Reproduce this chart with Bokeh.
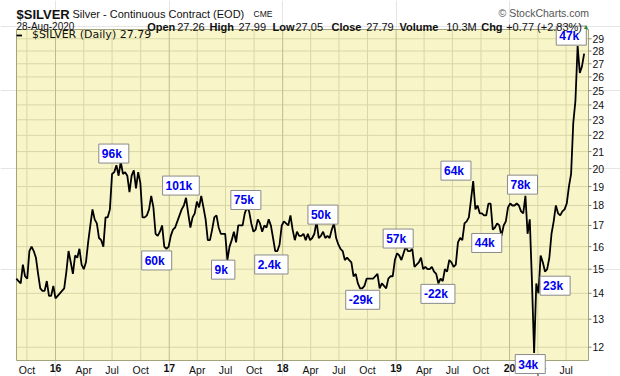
import math
import pandas as pd
from bokeh.plotting import figure
from bokeh.models import Range1d, Label, Legend, LegendItem
from bokeh.core.properties import value
from bokeh.embed import file_html
from bokeh.resources import INLINE

# ---- weekly closes (Fridays) ----
prices_2015 = [14.6,
               14.5, 14.4, 15.2, 14.7,
               14.6, 15.8, 16.0, 15.8, 15.5,
               14.8, 14.2, 14.1, 14.1,
               14.5, 13.9, 13.9, 14.3]
prices_2016 = [13.8, 13.9, 14.0, 14.1, 14.2,
               14.9, 15.8, 15.3, 14.8,
               15.6, 15.5, 15.9, 15.2,
               15.0, 15.3, 16.2, 17.0, 17.8,
               17.3, 17.1, 16.4, 16.3,
               16.0, 17.4, 17.4, 17.8,
               19.7, 19.8, 20.2, 19.6, 20.4,
               19.7, 19.8, 19.6, 18.7,
               19.6, 19.9, 18.9, 19.8, 19.2,
               17.4, 17.4, 17.5, 17.8,
               18.5, 17.9, 16.6, 16.5,
               16.7, 17.0, 16.0, 15.9, 16.0]
prices_2017 = [16.5, 16.8, 16.9, 17.2,
               17.5, 17.8, 18.0, 18.4,
               17.6, 16.9, 17.4, 17.6, 18.2,
               17.9, 18.5, 17.9, 17.3,
               16.3, 16.3, 16.8, 17.4,
               17.5, 16.9, 16.6, 16.6, 16.6,
               15.4, 16.0, 16.3, 16.7,
               16.2, 17.0, 17.0, 17.0,
               17.6, 17.9, 17.7, 17.1, 16.7,
               16.8, 17.3, 17.1, 16.7,
               17.0, 16.9, 17.3, 17.0,
               16.4, 15.8, 15.8, 16.1, 17.0]
prices_2018 = [17.2, 17.1, 17.0, 17.5,
               16.8, 16.3, 16.7, 16.5,
               16.5, 16.6, 16.3, 16.6, 16.3,
               16.4, 16.6, 17.2, 16.4,
               16.5, 16.7, 16.4, 16.5,
               16.4, 16.8, 17.1, 16.4, 16.1,
               15.9, 15.8, 15.4, 15.5,
               15.4, 15.3, 14.7, 14.8, 14.4,
               14.2, 14.2, 14.3, 14.6,
               14.6, 14.6, 14.6, 14.7,
               14.8, 14.2, 14.4, 14.3, 14.2,
               14.6, 14.7, 14.7, 15.4]
prices_2019 = [15.7, 15.6, 15.4, 15.7,
               16.0, 15.8, 15.8, 15.9,
               15.1, 15.2, 15.3, 15.5, 15.0,
               15.1, 15.0, 15.0, 15.1,
               14.9, 14.8, 14.4, 14.6, 14.5,
               15.0, 14.9, 15.4, 15.3,
               15.1, 15.2, 16.2, 16.4,
               16.3, 17.1, 17.2, 17.4, 18.3,
               19.3, 17.8, 18.0, 17.6,
               17.6, 17.5, 17.5, 18.1,
               18.1, 16.8, 16.9, 17.1, 17.0,
               16.5, 17.0, 17.2, 17.9]
prices_2020 = [18.1, 18.0, 18.0, 18.1, 18.0,
               17.7, 17.6, 18.5, 16.6,
               17.3, 14.5, 11.8, 14.4,
               14.0, 15.6, 15.3, 14.9,
               15.0, 15.5, 16.6, 17.2, 18.0,
               17.6, 17.5, 17.7, 17.8,
               18.1, 19.0, 19.7, 22.8, 24.3,
               28.4, 26.3, 26.8, 27.8]
first_fridays = ["2015-08-28", "2016-01-01", "2017-01-06", "2018-01-05", "2019-01-04", "2020-01-03"]
yearly = [prices_2015, prices_2016, prices_2017, prices_2018, prices_2019, prices_2020]

# ---- annotations (net positions) ----
ann_labels = ["96k", "60k", "101k", "9k", "75k", "2.4k", "50k", "-29k",
              "57k", "-22k", "64k", "44k", "78k", "34k", "23k", "47k"]
ann_dates = ["2016-07-13", "2016-11-28", "2017-02-14", "2017-06-30", "2017-09-11",
             "2017-12-02", "2018-05-17", "2018-09-22", "2019-01-14", "2019-05-22",
             "2019-07-19", "2019-10-26", "2020-02-18", "2020-03-14", "2020-06-02",
             "2020-07-24"]
ann_prices = [20.34, 15.79, 18.56, 15.38, 17.81, 15.61, 17.08, 14.11,
              15.95, 14.35, 19.37, 16.60, 18.61, 11.74, 14.69, 28.50]
ann_side = ["above", "below", "above", "below", "above", "below", "above", "below",
            "above", "below", "above", "below", "above", "below", "below", "above"]

# ---- axes content ----
price_ticks = list(range(12, 30))
year_labels = ["16", "17", "18", "19", "20"]
year_dates = ["2016-01-01", "2017-01-01", "2018-01-01", "2019-01-01", "2020-01-01"]
month_labels = ["Oct", "Apr", "Jul", "Oct", "Apr", "Jul", "Oct", "Apr", "Jul", "Oct",
                "Apr", "Jul", "Oct", "Apr", "Jul"]
month_dates = ["2015-10-01",
               "2016-04-01", "2016-07-01", "2016-10-01",
               "2017-04-01", "2017-07-01", "2017-10-01",
               "2018-04-01", "2018-07-01", "2018-10-01",
               "2019-04-01", "2019-07-01", "2019-10-01",
               "2020-04-01", "2020-07-01"]
X_START, X_END = "2015-08-28 12:00", "2020-09-11"
Y_LOW, Y_HIGH = 11.552, 29.78


def ms(d):
    return pd.Timestamp(d).value / 1e6


dates = []
prices = []
for start, vals in zip(first_fridays, yearly):
    dates.extend(pd.date_range(start, periods=len(vals), freq="W-FRI"))
    prices.extend(vals)

# ---- layout: the frame covers the whole canvas; plot area is a box inside ----
W, H = 620, 376
PA_L, PA_R, PA_T, PA_B = 16, 588, 29, 360
xs, xe = ms(X_START), ms(X_END)
per_px = (xe - xs) / (PA_R - PA_L)
k = math.log(Y_HIGH / Y_LOW) / (PA_B - PA_T)
x_range = Range1d(xs - PA_L * per_px, xe + (W - PA_R) * per_px)
y_range = Range1d(Y_LOW * math.exp(-(H - PA_B) * k), Y_HIGH * math.exp(PA_T * k))

BG = "#f8f6c8"
GRID = "#d8d6a6"
YEARGRID = "#bdbd8a"
OUTLINE = "#a3a37c"
TXT = "#111111"

p = figure(width=W, height=H, x_axis_type="datetime", y_axis_type="log",
           x_axis_location=None, y_axis_location=None,
           x_range=x_range, y_range=y_range,
           output_backend="svg", toolbar_location=None, min_border=0,
           background_fill_color="white", border_fill_color="white",
           outline_line_color=None)

# plot area background
p.quad(left=[xs], right=[xe], bottom=[Y_LOW], top=[Y_HIGH], fill_color=BG, line_color=None)

# grid lines
p.segment(x0=[xs] * len(price_ticks), x1=[xe] * len(price_ticks),
          y0=price_ticks, y1=price_ticks, line_color=GRID, line_width=1)
qd = [ms(d) for d in month_dates]
p.segment(x0=qd, x1=qd, y0=[Y_LOW] * len(qd), y1=[Y_HIGH] * len(qd),
          line_color=GRID, line_width=1)
yd = [ms(d) for d in year_dates]
p.segment(x0=yd, x1=yd, y0=[Y_LOW] * len(yd), y1=[Y_HIGH] * len(yd),
          line_color=YEARGRID, line_width=1)

# outline of plot area
p.quad(left=[xs], right=[xe], bottom=[Y_LOW], top=[Y_HIGH], fill_color=None,
       line_color=OUTLINE, line_width=1)

# right-hand price scale
p.ray(x=[xe] * len(price_ticks), y=price_ticks, length=3, length_units="screen", angle=0,
      line_color="#8a8a70", line_width=1)
p.text(x=[xe] * len(price_ticks), y=price_ticks, text=[str(t) for t in price_ticks],
       x_offset=4, text_align="left", text_baseline="middle",
       text_font=value("Liberation Sans"), text_font_size="10.5px", text_color=TXT)

# date scale
p.text(x=qd, y=[Y_LOW] * len(qd), text=month_labels, y_offset=3,
       text_align="center", text_baseline="top",
       text_font=value("Liberation Sans"), text_font_size="10.5px", text_color=TXT)
p.text(x=yd, y=[Y_LOW] * len(yd), text=year_labels, y_offset=3,
       text_align="center", text_baseline="top", text_font_style="bold",
       text_font=value("Liberation Sans"), text_font_size="10.5px", text_color=TXT)

# price line
line_r = p.line(dates, prices, line_color="black", line_width=1.8)

legend = Legend(items=[LegendItem(label="$SILVER (Daily) 27.79", renderers=[line_r])],
                location=(PA_L, H - PA_T - 12), margin=0, padding=0, spacing=0,
                glyph_width=6, glyph_height=8, label_height=12, label_standoff=10,
                label_text_font="DejaVu Sans", label_text_font_size="11px",
                label_text_color=TXT, background_fill_alpha=0, border_line_alpha=0)
p.add_layout(legend)

# annotation boxes
for lab, d, pr, side in zip(ann_labels, ann_dates, ann_prices, ann_side):
    p.add_layout(Label(x=ms(d), y=pr, text=lab, text_align="center", text_baseline="middle",
                       x_offset=-2, y_offset=9.2 if side == "above" else -9.2,
                       text_font="Liberation Sans", text_font_style="bold",
                       text_font_size="12px", text_color="#0000ee",
                       background_fill_color="white", border_line_color="#8a8a8a",
                       border_line_width=1,
                       padding=dict(left=3, right=7, top=3, bottom=2)))


def header(text, cx, baseline, size, style="normal", font="Liberation Sans", color=TXT):
    p.add_layout(Label(x=cx, y=H - baseline, x_units="screen", y_units="screen",
                       text=text, text_align="left", text_baseline="alphabetic",
                       text_font=font, text_font_style=style, text_font_size=size,
                       text_color=color))


header("$SILVER", 16, 13.5, "13px", "bold")
header("Silver - Continuous Contract (EOD)", 72, 13.5, "11px")
header("CME", 253, 13.5, "8.5px")
header("\u00a9 StockCharts.com", 498, 12.5, "10.5px", color="#555555")
header("28-Aug-2020", 16, 26, "10px")
parts = [("Open", 146.7, "bold"), ("27.26", 176.7, "normal"), ("High", 209, "bold"),
         ("27.99", 238, "normal"), ("Low", 272, "bold"), ("27.05", 295, "normal"),
         ("Close", 331, "bold"), ("27.79", 365.7, "normal"), ("Volume", 399, "bold"),
         ("10.3M", 445.7, "normal"), ("Chg", 480.7, "bold"), ("+0.77 (+2.83%)", 505.7, "normal")]
for t, cx, st in parts:
    header(t, cx, 26, "11px", st)
header("\u25b2", 582, 26, "7px", color="#2e8b2e")

open("out.html", "w").write(file_html(p, INLINE))
